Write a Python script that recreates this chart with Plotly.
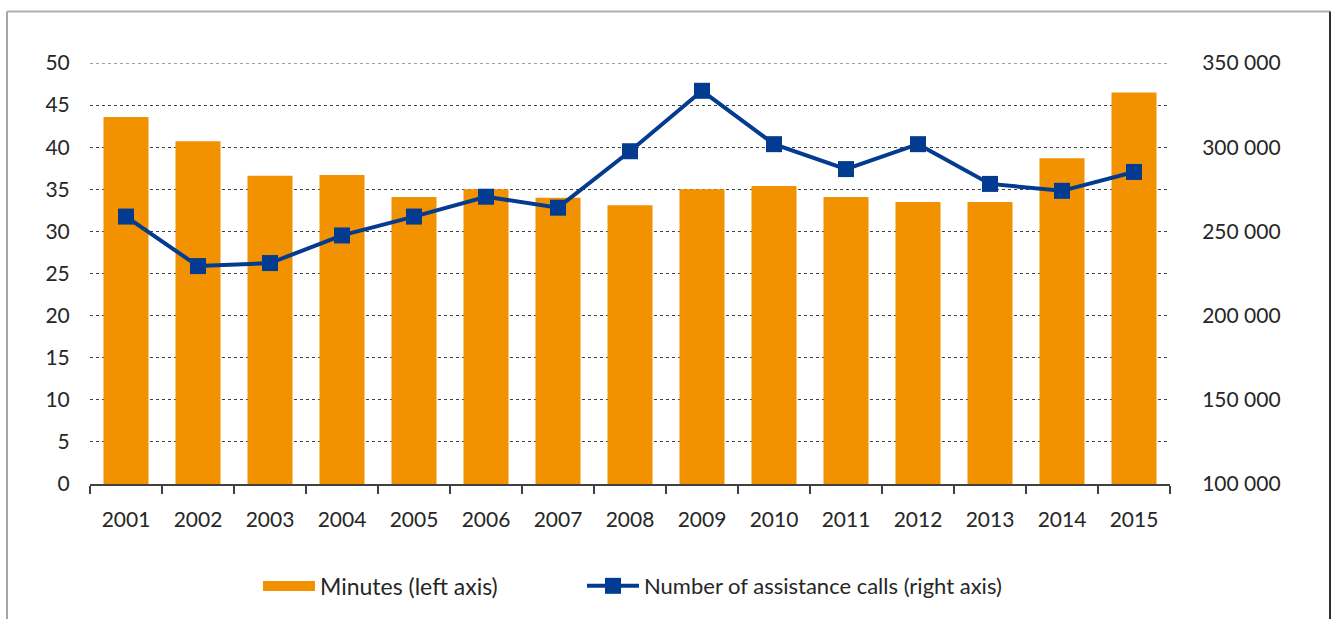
import plotly.graph_objects as go

years = ["2001", "2002", "2003", "2004", "2005", "2006", "2007", "2008",
         "2009", "2010", "2011", "2012", "2013", "2014", "2015"]
minutes = [43.6, 40.7, 36.6, 36.7, 34.1, 35.0, 34.0, 33.1,
           35.0, 35.4, 34.1, 33.5, 33.5, 38.7, 46.5]
calls = [258800, 229400, 231200, 247600, 258800, 270600, 264100, 297600,
         333500, 301800, 287000, 301800, 278200, 274100, 285300]

left_ticks = [0, 5, 10, 15, 20, 25, 30, 35, 40, 45, 50]
right_ticks = [100000, 150000, 200000, 250000, 300000, 350000]
right_labels = ["100 000", "150 000", "200 000", "250 000", "300 000", "350 000"]

ORANGE = "#F39200"
BLUE = "#023B8F"
FONT = "Lato"
TXT = "#262626"
GRID = "#404040"
FS = 21

fig = go.Figure()
fig.add_trace(go.Bar(
    x=years, y=minutes, name="Minutes (left axis)",
    marker=dict(color=ORANGE, line=dict(width=0)),
    yaxis="y", showlegend=False,
))
# legend-only entry so the swatch is a wide rectangle as in the reference
fig.add_trace(go.Scatter(
    x=[None], y=[None], name="Minutes (left axis)", mode="lines",
    line=dict(color=ORANGE, width=15), yaxis="y", legend="legend",
))
fig.add_trace(go.Scatter(
    x=years, y=calls, name="Number of assistance calls (right axis)",
    mode="lines+markers",
    line=dict(color=BLUE, width=4),
    marker=dict(symbol="square", size=16, color=BLUE),
    yaxis="y2", legend="legend2",
))

L, R, T, B = 90, 167, 63, 131
W, H = 1337, 619
pw, ph = W - L - R, H - T - B

def px_x(x):
    return (x - L) / pw

def px_y(y):
    return (H - B - y) / ph

legend_common = dict(orientation="h", yanchor="middle", xanchor="left",
                     itemwidth=52, bgcolor="rgba(0,0,0,0)")

fig.update_layout(
    width=W, height=H,
    margin=dict(l=L, r=R, t=T, b=B),
    paper_bgcolor="white", plot_bgcolor="white",
    font=dict(family=FONT, size=FS, color=TXT),
    separators=". ",
    bargap=0.375,
    showlegend=True,
    legend=dict(x=px_x(258), y=px_y(591), font=dict(family=FONT, size=23, color=TXT),
                **legend_common),
    legend2=dict(x=px_x(582), y=px_y(591), font=dict(family=FONT, size=22, color=TXT),
                 **legend_common),
    xaxis=dict(
        type="category", range=[-0.5, 14.5], showgrid=False, showline=True,
        linecolor=GRID, linewidth=1.5,
        ticks="outside", tickson="boundaries", ticklen=8, tickcolor=GRID, tickwidth=1.5,
        ticklabelstandoff=16,
        tickfont=dict(family=FONT, size=FS, color=TXT),
    ),
    yaxis=dict(
        range=[0, 50], tickvals=left_ticks, showline=False, zeroline=False,
        showgrid=True, gridcolor=GRID, gridwidth=1, griddash="dot",
        ticks="outside", ticklen=15, tickcolor="rgba(0,0,0,0)",
        tickfont=dict(family=FONT, size=FS, color=TXT),
    ),
    yaxis2=dict(
        range=[100000, 350000], tickvals=right_ticks, ticktext=right_labels,
        overlaying="y", side="right", showgrid=False, showline=False, zeroline=False,
        ticks="outside", ticklen=27, tickcolor="rgba(0,0,0,0)",
        tickfont=dict(family=FONT, size=FS, color=TXT),
    ),
    shapes=[
        # top gridline at 50 (plotly drops gridlines at the plot edge)
        dict(type="line", xref="paper", yref="y", x0=0, x1=1, y0=50, y1=50,
             line=dict(color=GRID, width=1, dash="dot"), layer="below"),
        dict(type="line", xref="paper", yref="paper",
             x0=px_x(7), x1=px_x(7), y0=px_y(625), y1=px_y(11),
             line=dict(color="#A6A6A6", width=2)),
        dict(type="line", xref="paper", yref="paper",
             x0=px_x(7), x1=px_x(1330), y0=px_y(11), y1=px_y(11),
             line=dict(color="#B0B0B0", width=2)),
        dict(type="line", xref="paper", yref="paper",
             x0=px_x(1330), x1=px_x(1330), y0=px_y(625), y1=px_y(11),
             line=dict(color="#303030", width=2)),
    ],
)

fig.write_html("out.html")
